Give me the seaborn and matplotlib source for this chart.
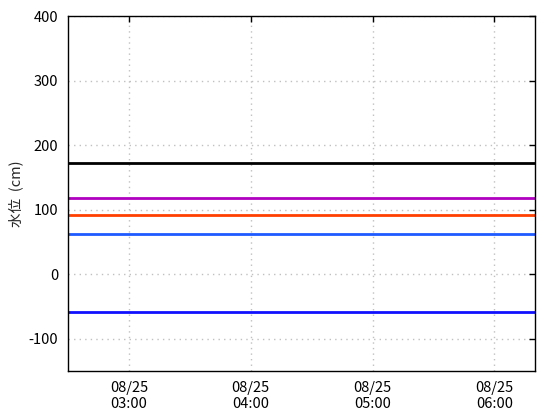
import numpy as np
import pandas as pd
import matplotlib
matplotlib.use("Agg")
import matplotlib.pyplot as plt
import matplotlib.dates as mdates
import seaborn as sns

# reference levels (cm) drawn as flat lines over the time window
level_names = ["level_a", "level_b", "level_c", "level_d", "level_e"]
level_values = [172, 118, 92, 62, -59]
level_colors = ["#000000", "#b000c0", "#ff4000", "#1e5aff", "#1010ff"]

time_start = "2023-08-25 02:30"
time_end = "2023-08-25 06:20"
tick_times = ["2023-08-25 03:00", "2023-08-25 04:00", "2023-08-25 05:00", "2023-08-25 06:00"]

y_ticks = [-100, 0, 100, 200, 300, 400]

sns.set_style("white")
plt.rcParams['font.family'] = ['Liberation Sans Narrow', 'Noto Sans CJK JP', 'DejaVu Sans']
plt.rcParams['axes.unicode_minus'] = False

rows = []
for name, val in zip(level_names, level_values):
    for t in (time_start, time_end):
        rows.append({"time": pd.Timestamp(t), "level": val, "name": name})
df = pd.DataFrame(rows)

fig = plt.figure(figsize=(5.6, 4.2), dpi=100)
ax = fig.add_axes([0.1214, 0.1167, 0.8340, 0.8452])

sns.lineplot(data=df, x="time", y="level", hue="name", palette=level_colors,
             hue_order=level_names, linewidth=2, legend=False, ax=ax)

ax.set_xlim(pd.Timestamp(time_start), pd.Timestamp(time_end))
ax.set_ylim(-150, 400)
ax.set_yticks(y_ticks)
ax.set_xticks([pd.Timestamp(t) for t in tick_times])
ax.xaxis.set_major_formatter(mdates.DateFormatter("%m/%d\n%H:%M"))

ax.grid(True, linestyle=(0, (1, 3)), color="#c0c0c0", linewidth=1)
ax.tick_params(direction="in", length=4, width=1, top=True, right=True,
               labelsize=10.5, colors="black", pad=7)
for s in ax.spines.values():
    s.set_color("black")
    s.set_linewidth(1)

ax.set_xlabel("")
ax.set_ylabel("水位  (cm)", fontsize=10.5, family=['Noto Sans CJK JP', 'DejaVu Sans'])

plt.savefig("out.png", dpi=100)
plt.close()
